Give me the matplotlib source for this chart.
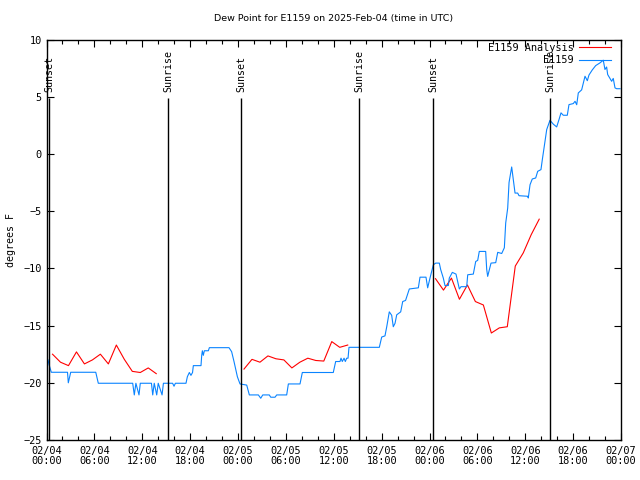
import numpy as np
import matplotlib
matplotlib.use('Agg')
import matplotlib.pyplot as plt

plt.rcParams['font.family'] = 'DejaVu Sans Mono'

# hours since 2025-02-04 00:00 UTC
red_hours = [0.75, 1.75, 2.75, 3.75, 4.75, 5.75, 6.75, 7.75, 8.75, 9.75, 10.75, 11.75, 12.75, 13.75,
             np.nan,
             24.75, 25.75, 26.75, 27.75, 28.75, 29.75, 30.75, 31.75, 32.75, 33.75, 34.75, 35.75, 36.75, 37.75,
             np.nan,
             48.75, 49.75, 50.75, 51.75, 52.75, 53.75, 54.75, 55.75, 56.75, 57.75, 58.75, 59.75, 60.75, 61.75]
red_vals = [-17.5, -18.2, -18.5, -17.3, -18.35, -18.0, -17.5, -18.35, -16.7, -17.95, -19.0, -19.1, -18.7, -19.2,
            np.nan,
            -18.8, -17.95, -18.2, -17.65, -17.9, -18.0, -18.7, -18.2, -17.85, -18.05, -18.1, -16.4, -16.9, -16.7,
            np.nan,
            -10.9, -11.9, -10.85, -12.7, -11.45, -12.9, -13.2, -15.65, -15.2, -15.1, -9.8, -8.65, -7.05, -5.7]

blue_hours = [0.19, 0.31, 0.6, 2.63, 2.73, 3.03, 6.17, 6.49, 10.8, 11.0, 11.2, 11.59, 11.75, 13.15, 13.31,
              13.5, 13.81, 14.0, 14.48, 14.65, 15.8, 15.98, 16.15, 17.48, 17.65, 17.9, 18.1, 18.3, 18.4,
              19.36, 19.45, 19.53, 19.65, 19.78, 20.28, 20.41, 22.87, 23.2, 23.5, 23.92, 24.25, 25.09,
              25.42, 26.55, 26.85, 27.1, 27.92, 28.1, 28.64, 28.85, 30.1, 30.31, 31.77, 32.06, 35.94,
              36.24, 36.78, 36.91, 37.07, 37.29, 37.45, 37.62, 37.79, 37.91, 41.71, 42.01, 42.42, 42.64,
              42.96, 43.26, 43.46, 43.68, 43.89, 44.39, 44.64, 45.0, 45.47, 46.6, 46.81, 47.56, 47.77,
              48.06, 48.48, 48.78, 49.23, 49.4, 49.73, 49.94, 50.36, 50.48, 50.86, 51.32, 51.74, 51.95,
              52.66, 52.79, 53.49, 53.79, 54.04, 54.24, 55.04, 55.17, 55.29, 55.71, 56.3, 56.55, 57.05,
              57.38, 57.55, 57.8, 57.97, 58.3, 58.5, 58.72, 59.05, 59.22, 60.31, 60.38, 60.6, 60.88,
              61.31, 61.56, 61.97, 62.14, 62.39, 62.69, 63.1, 63.52, 63.94, 64.23, 64.48, 64.77, 65.27,
              65.48, 66.02, 66.24, 66.45, 66.65, 67.07, 67.49, 67.78, 67.99, 68.4, 68.83, 69.37, 69.78,
              69.99, 70.2, 70.33, 70.62, 70.83, 71.03, 71.25, 71.46, 71.88]
blue_vals = [-18.0, -18.4, -19.08, -19.08, -20.0, -19.08, -19.08, -20.04, -20.04, -21.06, -20.04, -21.06,
             -20.04, -20.04, -21.06, -20.04, -21.06, -20.04, -21.06, -20.04, -20.04, -20.3, -20.04, -20.04,
             -19.47, -19.1, -19.35, -19.1, -18.5, -18.5, -17.6, -17.2, -17.6, -17.2, -17.2, -16.93, -16.93,
             -17.28, -18.15, -19.47, -20.1, -20.2, -21.06, -21.06, -21.35, -21.06, -21.06, -21.26, -21.26,
             -21.06, -21.06, -20.1, -20.1, -19.1, -19.1, -18.14, -18.14, -17.85, -18.14, -17.85, -18.14,
             -17.85, -17.85, -16.9, -16.9, -16.0, -15.9, -15.1, -13.8, -14.1, -15.1, -14.8, -14.06, -13.8,
             -12.9, -12.8, -11.8, -11.7, -10.77, -10.77, -11.7, -10.85, -9.69, -9.54, -9.54, -10.1, -10.85,
             -11.5, -11.5, -10.85, -10.35, -10.5, -11.8, -11.6, -11.6, -10.56, -10.5, -9.4, -9.3, -8.52,
             -8.52, -10.1, -10.7, -9.54, -9.5, -8.6, -8.7, -8.2, -6.04, -4.73, -2.49, -1.14, -2.25, -3.42,
             -3.42, -3.65, -3.7, -3.85, -2.69, -2.19, -2.1, -1.52, -1.37, -0.5, 0.67, 2.13, 2.94, 2.6, 2.36,
             3.0, 3.59, 3.38, 3.38, 4.31, 4.4, 4.6, 4.3, 5.33, 5.6, 6.79, 6.4, 6.9, 7.34, 7.72, 7.96, 8.19,
             7.38, 7.6, 6.94, 6.6, 6.35, 6.6, 5.77, 5.7, 5.7]

sun_hours = [0.35, 15.23, 24.38, 39.2, 48.48, 63.14]
sun_names = ['Sunset', 'Sunrise', 'Sunset', 'Sunrise', 'Sunset', 'Sunrise']

xtick_hours = list(range(0, 73, 6))
xtick_labels = ['02/04\n00:00', '02/04\n06:00', '02/04\n12:00', '02/04\n18:00',
                '02/05\n00:00', '02/05\n06:00', '02/05\n12:00', '02/05\n18:00',
                '02/06\n00:00', '02/06\n06:00', '02/06\n12:00', '02/06\n18:00',
                '02/07\n00:00']

fig = plt.figure(figsize=(6.4, 4.8), dpi=100)
ax = fig.add_axes([0.0727, 0.0833, 0.8976, 0.8344])

ax.plot(red_hours, red_vals, color='#ff0000', lw=0.8, label='E1159 Analysis')
ax.plot(blue_hours, blue_vals, color='#0a84ff', lw=0.8, label='E1159')

for h, name in zip(sun_hours, sun_names):
    ax.vlines(h, -25, 4.85, color='black', lw=1.0)
    ax.text(h, 5.4, name, rotation=90, ha='center', va='bottom', fontsize=7.2)

ax.set_xlim(0, 72)
ax.set_ylim(-25, 10)
ax.set_xticks(xtick_hours)
ax.set_xticklabels(xtick_labels, fontsize=7.4, linespacing=1.1)
ax.set_xticks(range(0, 73, 2), minor=True)
ax.set_yticks(range(-25, 11, 5))
ax.tick_params(axis='y', labelsize=7.4)
ax.tick_params(which='major', direction='in', length=5, top=True, right=True, width=0.8)
ax.tick_params(which='minor', direction='in', length=3, top=True, right=True, width=0.8)
ax.tick_params(axis='x', pad=4)
for s in ax.spines.values():
    s.set_linewidth(1.0)

ax.set_ylabel('degrees F', fontsize=7.2, labelpad=5)
ax.set_title('Dew Point for E1159 on 2025-Feb-04 (time in UTC)', fontsize=6.8, pad=13,
             family='DejaVu Sans')

ax.legend(loc='upper right', bbox_to_anchor=(0.987, 0.997), frameon=False, fontsize=7.4,
          markerfirst=False, handlelength=3.2, handletextpad=0.5, labelspacing=0.25,
          borderaxespad=0.0, borderpad=0.2)

fig.savefig('out.png', dpi=100)
